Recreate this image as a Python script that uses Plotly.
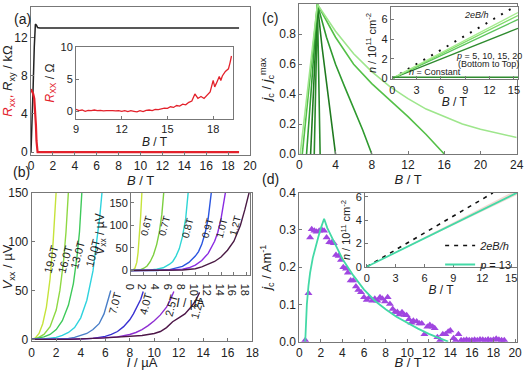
import plotly.graph_objects as go

W, H = 525, 370

# ---------------- Panel (a) data ----------------
a_B_xy = [0, 0.1, 0.2, 0.3, 0.4, 0.5, 0.6, 0.8, 1.0, 19.0]
a_Rxy = [0, 3.0, 7.0, 11.0, 13.4, 13.3, 13.05, 13.0, 13.0, 13.0]
a_B_xx = [0, 0.1, 0.2, 0.3, 0.4, 0.45, 0.5, 0.55, 0.6, 19.0]
a_Rxx = [6.6, 6.4, 6.1, 5.6, 4.2, 2.8, 1.2, 0.3, 0.0, 0.0]

ia_B = [9.0, 9.2, 9.4, 9.6, 9.8, 10.0, 10.2, 10.4, 10.6, 10.8, 11.0, 11.2, 11.4, 11.6, 11.8,
        12.0, 12.2, 12.4, 12.6, 12.8, 13.0, 13.2, 13.4, 13.6, 13.8, 14.0, 14.2, 14.4, 14.6, 14.8,
        15.0, 15.2, 15.4, 15.6, 15.8, 16.0, 16.2, 16.4, 16.6, 16.8, 17.0, 17.2, 17.4, 17.6, 17.8,
        18.0, 18.1, 18.2, 18.4, 18.5, 18.6, 18.8, 19.0, 19.1, 19.2]
ia_R = [0.3, 0.1, 0.2, 0.0, 0.15, 0.1, 0.2, 0.1, 0.15, 0.05, 0.1, 0.15, 0.1, 0.05, 0.1,
        0.0, 0.1, -0.05, 0.1, 0.0, -0.1, 0.1, -0.05, 0.15, 0.2, 0.1, 0.3, 0.25, 0.4, 0.5,
        0.45, 0.7, 0.6, 0.9, 0.8, 1.1, 1.0, 1.4, 1.6, 2.7, 2.0, 2.3, 2.0, 2.5, 3.0,
        4.8, 3.8, 4.3, 5.4, 4.8, 5.5, 6.2, 6.6, 7.5, 8.6]

# ---------------- Panel (b) data ----------------
b_fields = ["19.0T", "16.0T", "13.0T", "10.0T", "7.0T", "4.0T", "2.5T", "1.2T"]
b_colors = ["#c6e33a", "#8ed843", "#3ec95a", "#2fd3de", "#4a7fc8", "#3a32d2", "#8f2fd2", "#4d1648"]
b_I = [
    [0, 0.3, 0.6, 0.9, 1.2, 1.5, 1.75, 2.0],
    [0, 0.5, 1.0, 1.5, 2.0, 2.3, 2.6, 2.8, 3.0],
    [0, 0.5, 1, 1.5, 2, 2.5, 3, 3.4, 3.7, 3.9, 4.1],
    [0, 1, 2, 2.5, 3, 3.5, 4, 4.5, 5, 5.3, 5.55, 5.75],
    [0, 1, 2, 3, 3.5, 4, 4.5, 5, 5.5, 5.9, 6.2, 6.45],
    [0, 2, 4, 5, 6, 6.5, 7, 7.5, 8, 8.3, 8.6, 8.9, 9.1],
    [0, 3, 5, 7, 8, 8.5, 9, 9.5, 10, 10.5, 11, 11.3, 11.6],
    [0, 3, 6, 8, 9, 10, 10.5, 11, 11.5, 12, 12.5, 13, 13.4, 13.7],
]
b_V = [
    [0, 1.5, 6, 16, 33, 62, 100, 152],
    [0, 1.5, 5, 13, 30, 50, 80, 110, 152],
    [0, 1, 2.5, 5, 10, 19, 35, 57, 85, 110, 152],
    [0, 0.5, 2, 4, 7, 12, 22, 40, 70, 98, 125, 152],
    [0, 0, 0.5, 1, 2, 4, 6, 10, 16, 26, 38, 50],
    [0, 0, 0.5, 1, 3, 5, 8, 13, 20, 26, 33, 41, 49],
    [0, 0, 1, 2.5, 5, 7, 10, 14, 19, 25, 33, 40, 49],
    [0, 0, 1.5, 3, 4, 6, 8, 12, 18, 22, 26, 33, 40, 48],
]
b_lab_I = [1.6, 2.75, 3.75, 5.0, 6.8, 9.3, 11.4, 13.5]
b_lab_V = [82, 82, 86, 88, 37, 36, 35, 32]

ib_fields = ["0.6T", "0.7T", "0.8T", "0.9T", "1.0T", "1.2T"]
ib_colors = ["#c6e33a", "#7ccf3f", "#2fd6d6", "#2a55e0", "#8a2be2", "#4a1a44"]
ib_I = [
    [0, 0.3, 0.6, 0.9, 1.1, 1.3, 1.5, 1.7],
    [0, 0.5, 1, 1.5, 2, 2.5, 3, 3.5, 4, 4.4, 4.8, 5.1],
    [0, 1, 2, 3, 4, 5, 6, 6.5, 7, 7.5, 8, 8.5, 8.9],
    [0, 2, 4, 6, 7, 8, 9, 10, 10.5, 11, 11.5, 12, 12.5],
    [0, 2, 4, 6, 8, 9, 10, 11, 12, 13, 13.5, 14, 14.7],
    [0, 2, 4, 6, 8, 10, 11, 12, 13, 14, 15, 16, 17, 17.7, 18.4],
]
ib_V = [
    [0, 1, 5, 18, 40, 75, 120, 175],
    [0, 1, 1, 2, 5, 10, 20, 35, 58, 85, 125, 175],
    [0, 0, 0, 1, 3, 6, 14, 20, 32, 48, 75, 115, 175],
    [0, 0, 0, 2, 5, 9, 18, 32, 42, 58, 82, 115, 175],
    [0, 0, 0, 1, 3, 6, 12, 22, 38, 65, 85, 115, 175],
    [0, 0, 0, 0, 1, 4, 8, 14, 20, 30, 45, 65, 100, 135, 175],
]
ib_lab_I = [2.4, 5.2, 8.8, 11.9, 14.1, 16.2]
ib_lab_V = [100, 100, 93, 93, 93, 100]

# ---------------- Panel (c) data ----------------
c_colors = ["#2a8a2a", "#1f7a1f", "#2f9a2f", "#55c048", "#9ee68c"]
c_B = [
    [1.65, 2.0, 2.3],
    [1.25, 2.0, 2.5, 3.0, 3.5, 4.0],
    [0.8, 2.0, 3, 4, 5, 6, 7, 8],
    [0.33, 2.0, 4, 6, 8, 10, 12, 14, 16],
    [0.1, 2.0, 4, 6, 8, 10, 12, 14, 16, 18, 20, 22, 24],
]
c_J = [
    [0, 1, 0],
    [0, 1, 0.72, 0.47, 0.23, 0],
    [0, 1, 0.78, 0.6, 0.45, 0.31, 0.16, 0],
    [0, 1, 0.78, 0.6, 0.47, 0.36, 0.25, 0.13, 0],
    [0, 1, 0.82, 0.67, 0.55, 0.45, 0.37, 0.30, 0.25, 0.20, 0.165, 0.135, 0.11],
]
ic_B = [0, 15.5]
ic_p = ["p=5", "p=10", "p=15", "p=20"]
ic_n = [[0, 5.1], [0, 6.0], [0, 6.4], [0, 6.7]]
ic_colors = ["#2e8b2e", "#5cc45c", "#7fdc6a", "#a6ec8f"]
ic_const = [0.1, 0.1]
ic_hall_B = [0, 15.1]
ic_hall_n = [0, 7.3]

# ---------------- Panel (d) data ----------------
d_B = [0.55, 0.85, 1.0, 1.15, 1.4, 1.6, 1.85, 2.1, 2.3, 2.53, 2.78, 3.0, 3.2, 3.4, 3.65, 3.86,
       4.08, 4.33, 4.5, 4.76, 5.0, 5.25, 5.47, 5.72, 6.0, 6.25, 6.46, 6.77, 7.0, 7.23, 7.48,
       7.7, 7.94, 8.19, 8.4, 8.66, 8.87, 9.09, 9.27, 9.52, 9.74, 9.95, 10.17, 10.4, 10.57,
       10.88, 11.13, 11.35, 11.6, 11.87, 12.1, 12.36, 12.55, 12.8, 13.05, 13.3, 13.55, 13.8,
       14.0, 14.3, 14.5, 14.75, 15.0, 15.25, 15.5, 15.75, 16.0, 16.25, 16.5, 16.75, 17.0,
       17.25, 17.5, 17.75, 18.0, 18.25, 18.5, 18.75, 19.0]
d_J = [0.004, 0.13, 0.28, 0.302, 0.298, 0.295, 0.298, 0.30, 0.298, 0.28, 0.267, 0.266, 0.264,
       0.233, 0.23, 0.219, 0.2, 0.196, 0.185, 0.164, 0.164, 0.148, 0.139, 0.133, 0.119, 0.112,
       0.118, 0.11, 0.115, 0.11, 0.119, 0.115, 0.108, 0.119, 0.101, 0.088, 0.08, 0.08, 0.073,
       0.079, 0.072, 0.071, 0.06, 0.051, 0.056, 0.054, 0.049, 0.049, 0.02, 0.04, 0.045, 0.04,
       0.036, 0.012, 0.004, 0.02, 0.02, 0.027, 0.03, 0.009, 0.003, 0.02, 0.004, 0.004, 0.005,
       0.004, 0.004, 0.005, 0.004, 0.006, 0.005, 0.004, 0.006, 0.004, 0.005, 0.008, 0.005, 0.004, 0.004]
d_fit_B = [0.55, 0.6, 0.7, 0.85, 1.0, 1.25, 1.5, 1.75, 2.0, 2.3, 2.6, 3, 3.5, 4, 5, 6, 7, 8,
           9, 10, 11, 12, 13, 13.8]
d_fit_J = [0, 0.05, 0.1, 0.15, 0.185, 0.225, 0.255, 0.28, 0.305, 0.33, 0.305, 0.28, 0.25, 0.222,
           0.178, 0.14, 0.11, 0.087, 0.067, 0.05, 0.035, 0.021, 0.009, 0]
id_B = [0, 15.6]
id_n = [0, 6.35]
id_lo = [0, 6.15]
id_hi = [0, 6.6]
id_hall_B = [0, 13.1]
id_hall_n = [0, 6.33]

# ---------------- figure ----------------
fig = go.Figure()
FONT = "Arial, Liberation Sans, sans-serif"


def dx(a, b):
    return [a / W, b / W]


def dy(top, bottom):
    return [1 - bottom / H, 1 - top / H]


def axis(domain, rng, dtick, anchor, fs=12, fmt=None, title=None, tfs=13, standoff=2, tick0=None):
    d = dict(domain=domain, range=rng, dtick=dtick, anchor=anchor, showline=True,
             linecolor="#777", linewidth=1, mirror=True, ticks="inside", ticklen=3,
             tickcolor="#777", showgrid=False, zeroline=False, automargin=False,
             tickfont=dict(size=fs, color="#222", family=FONT))
    if tick0 is not None:
        d["tick0"] = tick0
    if fmt:
        d["tickformat"] = fmt
    if title:
        d["title"] = dict(text=title, font=dict(size=tfs, color="#222", family=FONT), standoff=standoff)
    return d


def line(x, y, xa, ya, color, width=1.5, dash=None, name=None, legend=False):
    fig.add_trace(go.Scatter(x=x, y=y, mode="lines", xaxis=xa, yaxis=ya, name=name,
                             line=dict(color=color, width=width, dash=dash), showlegend=legend,
                             hoverinfo="skip"))


# (a)
line(a_B_xy, a_Rxy, "x", "y", "#222", 1.5)
line(a_B_xx, a_Rxx, "x", "y", "#e3212b", 2.2)
line(ia_B, ia_R, "x2", "y2", "#e3212b", 1.3)

# (b)
for I, V, c in zip(b_I, b_V, b_colors):
    line(I, V, "x3", "y3", c, 1.4)
for I, V, c in zip(ib_I, ib_V, ib_colors):
    line(I, V, "x4", "y4", c, 1.4)

# (c)
for Bc, Jc, c in zip(c_B, c_J, c_colors):
    line(Bc, Jc, "x5", "y5", c, 1.6)
line(ic_hall_B, ic_hall_n, "x6", "y6", "#111", 2, dash="2px,7px")
for nn, c in zip(ic_n, ic_colors):
    line(ic_B, nn, "x6", "y6", c, 1.3)
line(ic_B, ic_const, "x6", "y6", "#2e8b2e", 1.5)

# (d)
fig.add_trace(go.Scatter(x=d_B, y=d_J, mode="markers", xaxis="x7", yaxis="y7",
                         marker=dict(symbol="triangle-up", size=7, color="#a046e0"),
                         showlegend=False, hoverinfo="skip"))
line(d_fit_B, d_fit_J, "x7", "y7", "#43d9a6", 1.8)
fig.add_trace(go.Scatter(x=id_B, y=id_lo, mode="lines", xaxis="x8", yaxis="y8",
                         line=dict(width=0, color="rgba(0,0,0,0)"), showlegend=False, hoverinfo="skip"))
fig.add_trace(go.Scatter(x=id_B, y=id_hi, mode="lines", xaxis="x8", yaxis="y8", fill="tonexty",
                         fillcolor="rgba(235,185,175,0.55)", line=dict(width=0, color="rgba(0,0,0,0)"),
                         showlegend=False, hoverinfo="skip"))
line(id_hall_B, id_hall_n, "x8", "y8", "#111", 1.6, dash="4px,5px", name="<i>2eB/h</i>", legend=True)
line(id_B, id_n, "x8", "y8", "#43d9a6", 1.8, name="<i>p</i> = 13", legend=True)

RED = "#e3212b"
layout = dict(
    width=W, height=H, margin=dict(l=0, r=0, t=0, b=0),
    paper_bgcolor="white", plot_bgcolor="white", template="none",
    font=dict(family=FONT, color="#222"),
    # (a)
    xaxis=axis(dx(31, 250), [0, 20], 2, "y", title="<i>B</i> / T", standoff=0),
    yaxis=axis(dy(7, 155), [-0.3, 15.2], 4, "x",
               title=f"<span style='color:{RED}'><i>R</i><sub>xx</sub>,</span> <i>R</i><sub>xy</sub> / kΩ",
               standoff=5),
    xaxis2=axis(dx(76, 233), [9, 19.3], 3, "y2", fs=11, title="<i>B</i> / T", tfs=12, standoff=0),
    yaxis2=axis(dy(47, 119), [-1.2, 10], 5, "x2", fs=11, tfs=12, standoff=3,
                title=f"<span style='color:{RED}'><i>R</i><sub>XX</sub></span> / Ω"),
    # (b)
    xaxis3=axis(dx(31.7, 252.3), [0, 18], 2, "y3", title="<i>I</i> / µA", standoff=0),
    yaxis3=axis(dy(192.7, 341.3), [-2, 150], 50, "x3", title="<i>V</i><sub>xx</sub> / µV", standoff=4),
    xaxis4=axis(dx(131, 250), [0, 18.5], 2, "y4", fs=11, title="<i>I</i> / µA", tfs=12, standoff=0),
    yaxis4=axis(dy(193, 275), [-10, 172], 50, "x4", fs=11, title="<i>V</i><sub>xx</sub> / µV", tfs=12,
                standoff=2),
    # (c)
    xaxis5=axis(dx(299.3, 516.7), [0, 24], 4, "y5", title="<i>B</i> / T", standoff=0),
    yaxis5=axis(dy(4.3, 154), [0, 1.0], 0.2, "x5", fmt=".1f",
                title="<i>j</i><sub>c</sub> / <i>j</i><sub>c</sub><sup>max</sup>", standoff=4),
    xaxis6=axis(dx(390.7, 518), [-0.2, 15.5], 3, "y6", fs=11, title="<i>B</i> / T", tfs=12, standoff=0),
    yaxis6=axis(dy(6.7, 79.3), [-0.1, 7.3], 2, "x6", fs=11,
                title="<i>n</i> / 10<sup>11</sup> cm<sup>-2</sup>", tfs=11, standoff=2),
    # (d)
    xaxis7=axis(dx(299.3, 516.7), [0, 20.15], 2, "y7", title="<i>B</i> / T", standoff=0),
    yaxis7=axis(dy(192.7, 341.7), [0, 0.4], 0.1, "x7", fmt=".1f",
                title="<i>j</i><sub>c</sub> / Am<sup>-1</sup>", standoff=4),
    xaxis8=axis(dx(365, 517), [-0.18, 15.6], 3, "y8", fs=11, title="<i>B</i> / T", tfs=12, standoff=0),
    yaxis8=axis(dy(192.7, 267.3), [-0.05, 6.35], 2, "x8", fs=11,
                title="<i>n</i> / 10<sup>11</sup> cm<sup>-2</sup>", tfs=11, standoff=2),
    legend=dict(x=0.985, y=1 - 231 / H, xanchor="right", yanchor="top", bgcolor="rgba(0,0,0,0)",
                font=dict(size=11, family=FONT, color="#222"), itemwidth=30, tracegroupgap=0,
                traceorder="normal"),
    showlegend=True,
)
fig.update_layout(**layout)

ann = []
# panel labels
for txt, x, y in [("(a)", 12, 9), ("(b)", 11, 172), ("(c)", 270, 8), ("(d)", 270, 179)]:
    ann.append(dict(text=txt, x=x / W, y=1 - y / H, xref="paper", yref="paper", showarrow=False,
                    font=dict(size=14, family=FONT, color="#222")))
# (b) labels
for t, xi, yv in zip(b_fields, b_lab_I, b_lab_V):
    ann.append(dict(text=t, x=xi, y=yv, xref="x3", yref="y3", showarrow=False, textangle=-75,
                    font=dict(size=11, family=FONT, color="#222")))
for t, xi, yv in zip(ib_fields, ib_lab_I, ib_lab_V):
    ann.append(dict(text=t, x=xi, y=yv, xref="x4", yref="y4", showarrow=False, textangle=-75,
                    font=dict(size=10, family=FONT, color="#222")))
# (c) inset texts
ann.append(dict(text="<i>2eB/h</i>", x=10.4, y=6.5, xref="x6", yref="y6", showarrow=False,
                font=dict(size=9, family=FONT, color="#222")))
ann.append(dict(text="<i>p</i> = 5, 10, 15, 20", x=11.9, y=2.3, xref="x6", yref="y6", showarrow=False,
                font=dict(size=9, family=FONT, color="#222")))
ann.append(dict(text="(Bottom to Top)", x=11.9, y=1.45, xref="x6", yref="y6", showarrow=False,
                font=dict(size=9, family=FONT, color="#222")))
ann.append(dict(text="<i>n</i> = Constant", x=5.3, y=0.6, xref="x6", yref="y6", showarrow=False,
                font=dict(size=9, family=FONT, color="#222")))
fig.update_layout(annotations=ann)

fig.write_html("out.html", config={"displayModeBar": False},
               post_script="document.body.style.margin='0';document.body.style.overflow='hidden';")
